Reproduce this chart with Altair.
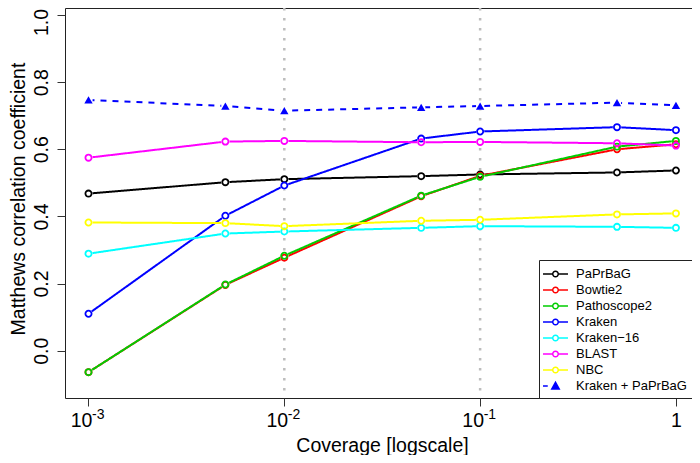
import altair as alt
import pandas as pd

FONT = "Liberation Sans, Arial, Helvetica, sans-serif"

# ---- data ----
coverage = [0.001, 0.005, 0.01, 0.05, 0.1, 0.5, 1.0]
series = ["PaPrBaG", "Bowtie2", "Pathoscope2", "Kraken", "Kraken\u221216",
          "BLAST", "NBC", "Kraken + PaPrBaG"]
paprbag = [0.468, 0.502, 0.511, 0.520, 0.525, 0.531, 0.537]
bowtie2 = [-0.064, 0.196, 0.277, 0.460, 0.521, 0.600, 0.615]
pathoscope2 = [-0.064, 0.197, 0.283, 0.462, 0.518, 0.608, 0.625]
kraken = [0.110, 0.402, 0.492, 0.632, 0.653, 0.666, 0.657]
kraken16 = [0.289, 0.349, 0.355, 0.366, 0.371, 0.369, 0.366]
blast = [0.575, 0.623, 0.625, 0.621, 0.622, 0.618, 0.611]
nbc = [0.382, 0.380, 0.371, 0.387, 0.390, 0.406, 0.409]
kraken_paprbag = [0.747, 0.729, 0.715, 0.725, 0.729, 0.739, 0.731]
values = [paprbag, bowtie2, pathoscope2, kraken, kraken16, blast, nbc, kraken_paprbag]

colors = ["#000000", "#FF0000", "#00CD00", "#0000FF", "#00FFFF",
          "#FF00FF", "#FFFF00", "#0000FF"]
fills = ["transparent"] * 7 + ["#0000FF"]
dashes = [[1, 0]] * 7 + [[6, 6]]

x_ticks = [0.001, 0.01, 0.1, 1.0]
x_exponents = ["-3", "-2", "-1"]
y_ticks = [0.0, 0.2, 0.4, 0.6, 0.8, 1.0]
v_grid = [0.01, 0.1]

rows = []
for s, vals in zip(series, values):
    for c, v in zip(coverage, vals):
        rows.append({"series": s, "coverage": c, "mcc": v})
df = pd.DataFrame(rows)
circ_df = df[df["series"] != "Kraken + PaPrBaG"].reset_index(drop=True)
tri_df = df[df["series"] == "Kraken + PaPrBaG"].reset_index(drop=True)
leg_df = df[df["coverage"] == 1.0].reset_index(drop=True)
exp_df = pd.DataFrame({"coverage": x_ticks[:3], "exp": x_exponents})
grid_df = pd.DataFrame({"coverage": v_grid})

# ---- scales / axes ----
xscale = alt.Scale(type="log", domain=[10 ** -3.12, 10 ** 0.082], nice=False)
yscale = alt.Scale(domain=[-0.141, 1.021], nice=False, zero=False)

x_axis = alt.Axis(
    values=x_ticks, grid=False, domain=False,
    labelExpr="datum.value >= 0.5 ? '1' : '10'",
    labelOffset={"condition": {"test": "datum.value < 0.5", "value": -7.5}, "value": 0},
    labelFont=FONT, labelFontSize=19.5, labelColor="black",
    labelBaseline="alphabetic", labelAlign="center", labelPadding=20.5,
    labelFlush=False, labelOverlap=False, labelBound=False,
    tickSize=8, tickColor="#333", tickWidth=1,
    title="Coverage [logscale]", titleFont=FONT, titleFontSize=19.5,
    titleFontWeight="normal", titleColor="black",
    titleX=317, titleY=53, titleAlign="center", titleBaseline="alphabetic",
)
y_axis = alt.Axis(
    values=y_ticks, format=".1f", grid=False, domain=False,
    labelAngle=270, labelAlign="center", labelBaseline="alphabetic",
    labelOffset={"condition": {"test": "datum.value > 0.99", "value": 7}, "value": 0},
    labelFont=FONT, labelFontSize=19.5, labelColor="black", labelPadding=10,
    labelFlush=False, labelOverlap=False, labelBound=False,
    tickSize=8, tickColor="#333", tickWidth=1,
    title="Matthews correlation coefficient", titleFont=FONT, titleFontSize=19.5,
    titleFontWeight="normal", titleColor="black",
    titleAngle=270, titleX=-41, titleY=190.5, titleAlign="center",
    titleBaseline="alphabetic",
)
X = alt.X("coverage:Q", scale=xscale, axis=x_axis)
Y = alt.Y("mcc:Q", scale=yscale, axis=y_axis)

# legend glyphs: line with open circle, dashed line with filled triangle
circ_path = ("M-1.58,0L-0.35,0M0.35,0L1.58,0"
             "M-0.35,0A0.35,0.35,0,1,0,0.35,0A0.35,0.35,0,1,0,-0.35,0")
tri_path = "M-1.58,0L-0.98,0M-0.47,0.38L0.47,0.38L0,-0.47Z"
shapes = [circ_path] * 7 + [tri_path]

legend = alt.Legend(
    orient="bottom-right", offset=0, direction="vertical",
    symbolSize=250, symbolStrokeWidth=1.5, symbolOpacity=1, symbolOffset=2.5,
    labelFont=FONT, labelFontSize=13, labelColor="black", labelOffset=11.5,
    labelLimit=300, rowPadding=0, padding=5,
    strokeColor="#222", fillColor="white", cornerRadius=0,
)

grid = alt.Chart(grid_df).mark_rule(
    strokeDash=[2.5, 7.5], color="#bdbdbd", strokeWidth=2.5
).encode(x=X)

# the plotted-line scales list the series in reverse so they stay apart from the legend's scales
rev_series = series[::-1]
color_scale = alt.Scale(domain=rev_series, range=colors[::-1])
dash_scale = alt.Scale(domain=rev_series, range=dashes[::-1])

lines = alt.Chart(df).mark_line(strokeWidth=2).encode(
    x=X, y=Y,
    color=alt.Color("series:N", scale=color_scale, legend=None),
    strokeDash=alt.StrokeDash("series:N", scale=dash_scale, legend=None),
)

# layer that only feeds the legend; drawn tiny and hidden under the circles
legend_layer = alt.Chart(leg_df).mark_point(size=1, strokeWidth=0.1, opacity=1).encode(
    x=X, y=Y,
    stroke=alt.Stroke("series:N", title=None, scale=alt.Scale(domain=series, range=colors), legend=legend),
    fill=alt.Fill("series:N", title=None, scale=alt.Scale(domain=series, range=fills), legend=legend),
    shape=alt.Shape("series:N", title=None, scale=alt.Scale(domain=series, range=shapes), legend=legend),
)

halo = alt.Chart(df).mark_point(
    shape="circle", filled=True, size=70, color="white", opacity=1, strokeWidth=0
).encode(x=X, y=Y)

circles = alt.Chart(circ_df).mark_point(
    shape="circle", filled=False, size=38, strokeWidth=1.8, opacity=1
).encode(
    x=X, y=Y,
    color=alt.Color("series:N", scale=color_scale, legend=None),
)

triangles = alt.Chart(tri_df).mark_point(
    shape="triangle-up", filled=True, size=70, color="#0000FF", opacity=1
).encode(x=X, y=Y)

exps = alt.Chart(exp_df).mark_text(
    align="left", baseline="alphabetic", fontSize=14, dx=3.5, font=FONT, color="black"
).encode(x=alt.X("coverage:Q", scale=xscale), y=alt.value(411), text="exp:N")

chart = alt.layer(grid, lines, legend_layer, halo, circles, triangles, exps).properties(
    width=627, height=390,
    autosize=alt.AutoSizeParams(type="none"),
    padding={"left": 57, "top": 0, "right": 0, "bottom": 57},
).configure_view(stroke="#222", strokeWidth=1)

chart.save("out.html", embed_options={"renderer": "svg", "actions": False})
